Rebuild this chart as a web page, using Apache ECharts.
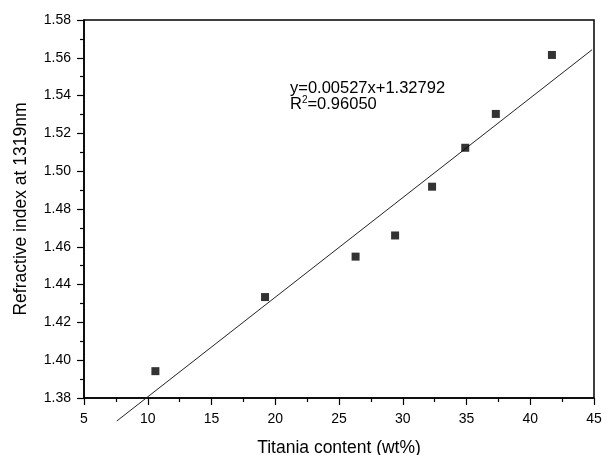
<!DOCTYPE html>
<html>
<head>
<meta charset="utf-8">
<script src="https://cdn.jsdelivr.net/npm/echarts@6/dist/echarts.min.js"></script>
<style>
  html, body { margin: 0; padding: 0; background: #fff; }
  #chart { width: 602px; height: 455px; }
</style>
</head>
<body>
<div id="chart"></div>
<script>
// Measured samples: titania content (wt%) and refractive index at 1319 nm
var titania = [10.6, 19.2, 26.3, 29.4, 32.3, 34.9, 37.3, 41.7];
var refractiveIndex = [1.3942, 1.4334, 1.4548, 1.4660, 1.4918, 1.5124, 1.5303, 1.5615];

// Linear fit reported on the chart
var fitSlope = 0.00527;
var fitIntercept = 1.32792;
var fitRSquared = '0.96050';
var fitRange = [7.57, 44.85];

var xTicks = { min: 5, max: 45, interval: 5 };
var yTicks = { min: 1.38, max: 1.58, interval: 0.02 };

var points = titania.map(function (x, i) { return [x, refractiveIndex[i]]; });
var fitLine = fitRange.map(function (x) { return [x, fitSlope * x + fitIntercept]; });

var font = "'Liberation Sans', Arial, sans-serif";
var axisCommon = {
  type: 'value',
  splitLine: { show: false },
  axisLine: { show: true, onZero: false, lineStyle: { color: '#000', width: 1.5 } },
  axisTick: { show: true, inside: false, length: 7, lineStyle: { color: '#000', width: 1.2 } },
  minorTick: { show: true, splitNumber: 2, length: 4, lineStyle: { color: '#000', width: 1.2 } },
  axisLabel: { color: '#000', fontSize: 14, fontFamily: font },
  nameLocation: 'middle',
  nameTextStyle: { color: '#000', fontSize: 17.5, fontFamily: font }
};

var chart = echarts.init(document.getElementById('chart'), null, { renderer: 'canvas' });
chart.setOption({
  animation: false,
  backgroundColor: '#fff',
  grid: {
    left: 84, right: 8, top: 20, bottom: 57,
    outerBoundsMode: 'none',
    containLabel: false,
    show: true, borderColor: '#000', borderWidth: 1.5, backgroundColor: 'transparent'
  },
  xAxis: Object.assign({}, axisCommon, {
    min: xTicks.min, max: xTicks.max, interval: xTicks.interval,
    name: 'Titania content (wt%)', nameGap: 41,
    axisLabel: Object.assign({}, axisCommon.axisLabel, { margin: 14 })
  }),
  yAxis: Object.assign({}, axisCommon, {
    min: yTicks.min, max: yTicks.max, interval: yTicks.interval,
    name: 'Refractive index at 1319nm', nameGap: 54,
    axisLabel: Object.assign({}, axisCommon.axisLabel, {
      margin: 13,
      formatter: function (v) { return v.toFixed(2); }
    })
  }),
  series: [
    {
      type: 'line',
      data: fitLine,
      clip: false,
      symbol: 'none',
      silent: true,
      lineStyle: { color: '#222', width: 1 },
      z: 2
    },
    {
      type: 'scatter',
      data: points,
      symbol: 'rect',
      symbolSize: 8,
      itemStyle: { color: '#000' },
      z: 3
    }
  ],
  graphic: [
    {
      type: 'text',
      left: 290, top: 80,
      style: {
        text: 'y=' + fitSlope.toFixed(5) + 'x+' + fitIntercept.toFixed(5),
        fontSize: 16.5,
        fontFamily: font,
        fill: '#000'
      }
    },
    {
      type: 'text',
      left: 290, top: 95,
      style: {
        text: 'R{sup|2}=' + fitRSquared,
        fontSize: 16.5,
        fontFamily: font,
        fill: '#000',
        rich: {
          sup: { fontSize: 10, fontFamily: font, fill: '#000', padding: [0, 0, 9, 0] }
        }
      }
    }
  ]
});
</script>
</body>
</html>
